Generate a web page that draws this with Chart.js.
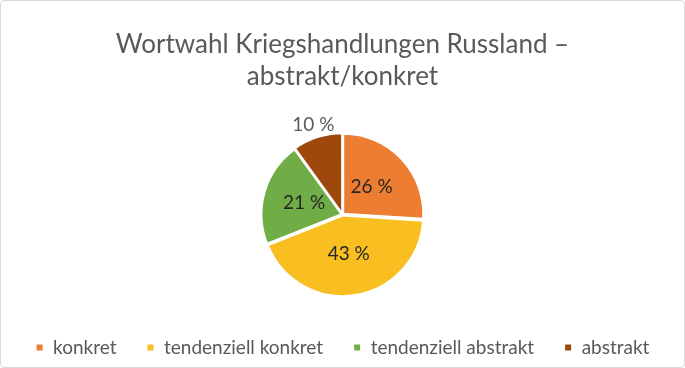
<!DOCTYPE html>
<html>
<head>
<meta charset="utf-8">
<script src="https://cdn.jsdelivr.net/npm/chart.js@4/dist/chart.umd.min.js"></script>
<style>
  html, body { margin: 0; padding: 0; background: #fff; }
  .frame {
    width: 685px; height: 368px; box-sizing: border-box;
    border: 1px solid #d9d9d9; border-radius: 4px; position: relative;
  }
  canvas { display: block; }
</style>
</head>
<body>
<div class="frame"><canvas id="pie" width="683" height="366"></canvas></div>
<script>
const categories = ["konkret", "tendenziell konkret", "tendenziell abstrakt", "abstrakt"];
const shares = [26, 43, 21, 10];
const sliceColors = ["#ED7D31", "#F9BF20", "#70AD47", "#9E480E"];
const titleLines = ["Wortwahl Kriegshandlungen Russland –", "abstrakt/konkret"];

// percent labels: inside the slice, small slices pushed outside
const percentLabels = {
  id: "percentLabels",
  afterDatasetsDraw(chart) {
    const ctx = chart.ctx;
    const meta = chart.getDatasetMeta(0);
    ctx.save();
    ctx.font = "19px Lato";
    ctx.textAlign = "center";
    ctx.textBaseline = "middle";
    meta.data.forEach((arc, i) => {
      const p = arc.getProps(["x", "y", "startAngle", "endAngle", "outerRadius"], true);
      const mid = (p.startAngle + p.endAngle) / 2;
      const outside = shares[i] < 15;
      const r = outside ? p.outerRadius * 1.18 : p.outerRadius * 0.5;
      ctx.fillStyle = outside ? "#595959" : "#262626";
      ctx.fillText(shares[i] + " %", p.x + Math.cos(mid) * r, p.y + Math.sin(mid) * r);
    });
    ctx.restore();
  },
};

new Chart(document.getElementById("pie").getContext("2d"), {
  type: "pie",
  data: {
    labels: categories,
    datasets: [
      {
        data: shares,
        backgroundColor: sliceColors,
        borderColor: "#ffffff",
        borderWidth: 2,
        offset: 4,
        radius: 80,
      },
    ],
  },
  options: {
    responsive: false,
    animation: false,
    plugins: {
      title: {
        display: true,
        text: titleLines,
        color: "#595959",
        font: { family: "Lato", size: 26, weight: "normal", lineHeight: 1.25 },
        padding: { top: 27, bottom: 28 },
      },
      legend: {
        position: "bottom",
        labels: {
          color: "#595959",
          font: { family: "Lato", size: 19 },
          boxWidth: 8,
          boxHeight: 8,
          padding: 30,
        },
      },
      tooltip: { enabled: false },
    },
  },
  plugins: [percentLabels],
});
</script>
</body>
</html>
